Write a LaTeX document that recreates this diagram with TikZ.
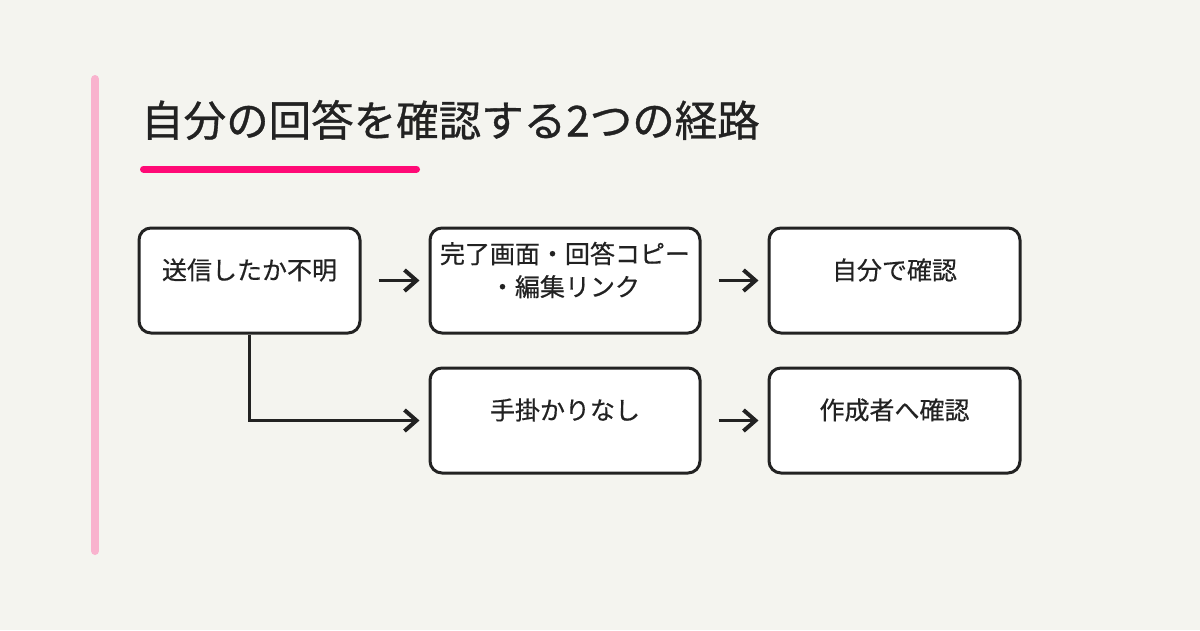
\documentclass[tikz,border=0pt]{standalone}
\usepackage{fontspec}
\setmainfont{Noto Sans CJK JP}
\newfontfamily\titlefont{Noto Sans CJK JP}[FakeBold=0.8]
\newfontfamily\boxfont{Noto Sans CJK JP}[FakeBold=0.5]
\usetikzlibrary{arrows.meta,calc}
\definecolor{bg}{HTML}{F4F4EF}
\definecolor{ink}{HTML}{222222}
\definecolor{barpink}{HTML}{F9B3CE}
\definecolor{hotpink}{HTML}{FF0A76}
\tikzset{
  box/.style={draw=ink, line width=3pt, rounded corners=12pt, fill=white, inner sep=0pt},
  lbl/.style={text=ink, font=\boxfont\fontsize{25}{33}\selectfont, align=center, inner sep=0pt},
  conn/.style={draw=ink, line width=3.5pt, -{Straight Barb[length=12pt,width=21pt,line width=4pt]}}
}
\begin{document}
\begin{tikzpicture}[x=1pt,y=-1pt]
\fill[bg] (0,0) rectangle (1200,630);
\useasboundingbox (0,0) rectangle (1200,630);
% decorations
\draw[barpink, line width=8pt, line cap=round] (95,79) -- (95,551);
\node[anchor=west, text=ink, font=\titlefont\fontsize{42.5}{50}\selectfont, inner sep=0pt] (title) at (141,120) {自分の回答を確認する2つの経路};
\draw[hotpink, line width=7pt, line cap=round] (143.5,169) -- (416.5,169);
% boxes
\node[box, minimum width=221pt, minimum height=105pt] (b1) at (249.5,280.5) {};
\node[box, minimum width=270pt, minimum height=105pt] (b2) at (565,280.5) {};
\node[box, minimum width=251pt, minimum height=105pt] (b3) at (894.5,280.5) {};
\node[box, minimum width=270pt, minimum height=105pt] (b4) at (565,420.5) {};
\node[box, minimum width=251pt, minimum height=105pt] (b5) at (894.5,420.5) {};
% labels
\node[lbl] (t1) at ($(b1.north)+(0,43.5)$) {送信したか不明};
\node[lbl] (t2) at ($(b2.north)+(0,43.5)$) {完了画面・回答コピー\\・編集リンク};
\node[lbl] (t3) at ($(b3.north)+(0,43.5)$) {自分で確認};
\node[lbl] (t4) at ($(b4.north)+(0,43.5)$) {手掛かりなし};
\node[lbl] (t5) at ($(b5.north)+(0,43.5)$) {作成者へ確認};
% connectors
\draw[conn] ($(b1.east)+(17,0)$) -- ($(b2.west)+(-9,0)$);
\draw[conn] ($(b2.east)+(17,0)$) -- ($(b3.west)+(-9,0)$);
\draw[conn] ($(b4.east)+(17,0)$) -- ($(b5.west)+(-9,0)$);
\draw[conn] (b1.south) |- ($(b4.west)+(-9,0)$);
\end{tikzpicture}
\end{document}
